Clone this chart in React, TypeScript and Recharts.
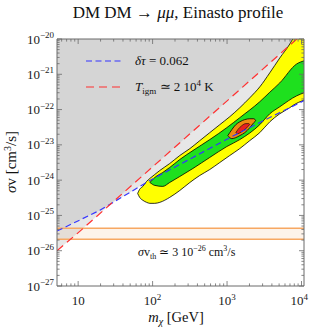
import React from 'react';
import { ComposedChart, Area, Line, XAxis, YAxis, ReferenceLine, ReferenceArea } from 'recharts';

const W = 309;
const H = 332;
const FONT = '"Liberation Serif", "Times New Roman", Times, serif';
const FRAME = '#6a6a6a';

// axis ranges
const massRange = [5.2, 10800];
const svRange = [1e-27, 1e-20];
const massDecades = [1, 10, 100, 1000, 10000];
const svExponents = [-27, -26, -25, -24, -23, -22, -21];

// thermal cross-section band
const svThLow = 2.1e-26;
const svThHigh = 4.3e-26;

// delta tau = 0.062 bound (blue dashed)
const tauCurve = [
  { m: 5.2, sv: 3.6e-26 },
  { m: 19.6, sv: 1.4e-25 },
  { m: 92, sv: 9.8e-25 },
  { m: 348, sv: 4.4e-24 },
  { m: 1090, sv: 1.6e-23 },
  { m: 2750, sv: 4.3e-23 },
  { m: 9470, sv: 1.56e-22 },
  { m: 10800, sv: 1.8e-22 },
];

// T_igm bound (red dashed)
const tigmCurve = [
  { m: 5.2, sv: 1.0e-26 },
  { m: 10.7, sv: 3.65e-26 },
  { m: 107, sv: 2.7e-24 },
  { m: 1070, sv: 2.0e-22 },
  { m: 8640, sv: 1e-20 },
];

// contour slices: [mass, lower sv, upper sv]
const yellowContour = [
  [63, 4.2e-25, 4.2e-25],
  [67, 3.25e-25, 5.5e-25],
  [74, 2.68e-25, 6.65e-25],
  [83, 2.35e-25, 9.2e-25],
  [92, 2.2e-25, 1.12e-24],
  [107, 2.2e-25, 1.45e-24],
  [125, 2.35e-25, 1.88e-24],
  [170, 3.25e-25, 2.96e-24],
  [232, 5.1e-25, 5.0e-24],
  [317, 8.6e-25, 7.85e-24],
  [431, 1.36e-24, 1.32e-23],
  [586, 2.0e-24, 2.22e-23],
  [799, 3.16e-24, 3.74e-23],
  [1089, 5.0e-24, 6.3e-23],
  [1483, 7.85e-24, 1.13e-22],
  [2020, 1.32e-23, 2.16e-22],
  [2752, 2.22e-23, 4.4e-22],
  [3749, 4.5e-23, 1.1e-21],
  [5106, 7.6e-23, 2.9e-21],
  [6955, 1.13e-22, 7.2e-21],
  [7629, 1.3e-22, 1e-20],
  [10800, 1.85e-22, 2.5e-20],
];

const greenContour = [
  [92, 8.6e-25, 8.6e-25],
  [107, 7.1e-25, 1.19e-24],
  [137, 6.65e-25, 1.65e-24],
  [170, 8.6e-25, 2.29e-24],
  [232, 1.27e-24, 3.85e-24],
  [348, 2.14e-24, 6.9e-24],
  [586, 4.4e-24, 1.41e-23],
  [992, 8.95e-24, 3.07e-23],
  [1483, 1.41e-23, 5.9e-23],
  [2752, 3.74e-23, 1.67e-22],
  [3749, 7.6e-23, 3.1e-22],
  [5106, 1.2e-22, 5.7e-22],
  [8635, 2.46e-22, 1.97e-21],
  [10800, 2.99e-22, 2.4e-21],
];

const orangeContour = [
  [1024, 1.83e-23, 1.83e-23],
  [1159, 1.5e-23, 2.7e-23],
  [1311, 1.6e-23, 3.74e-23],
  [1483, 1.83e-23, 4.5e-23],
  [1731, 2.22e-23, 5.2e-23],
  [2020, 3.07e-23, 5.5e-23],
  [2286, 4.26e-23, 5.5e-23],
  [2432, 4.85e-23, 4.85e-23],
];

const redContour = [
  [1311, 2.22e-23, 2.22e-23],
  [1395, 2.08e-23, 2.7e-23],
  [1579, 2.37e-23, 3.5e-23],
  [1785, 2.88e-23, 4.0e-23],
  [1960, 3.5e-23, 4.0e-23],
  [2020, 3.74e-23, 3.74e-23],
];

const toRows = (c: number[][]) => c.map(([m, lo, hi]) => ({ m, lo, hi }));
const tauRegion = tauCurve.map((p) => ({ m: p.m, lo: p.sv, hi: svRange[1] }));
const tigmRegion = tigmCurve.map((p) => ({ m: p.m, lo: p.sv, hi: svRange[1] }));

const xTicks: number[] = [];
massDecades.forEach((d) => {
  for (let k = 1; k <= 9; k++) {
    const v = k * d;
    if (v >= massRange[0] && v <= massRange[1]) xTicks.push(v);
  }
});

const yTicks: number[] = [];
svExponents.forEach((e) => {
  for (let k = 1; k <= 9; k++) yTicks.push(Number(`${k}e${e}`));
});
yTicks.push(1e-20);

const isMajor = (v: number) => {
  const l = Math.log10(v);
  return Math.abs(l - Math.round(l)) < 1e-6;
};

const XTick = (props: any) => {
  const { x, y, payload, side } = props;
  const v = payload.value;
  const major = isMajor(v);
  const len = major ? 5 : 2.6;
  const dir = side === 'bottom' ? -1 : 1;
  const exp = Math.round(Math.log10(v));
  const overflow = x + 9 > W - 1;
  return (
    <g>
      <line x1={x} y1={y} x2={x} y2={y + dir * len} stroke={FRAME} strokeWidth={0.8} />
      {side === 'bottom' && major && (
        <text
          x={overflow ? W - 1 : x}
          y={y + 19}
          textAnchor={overflow ? 'end' : 'middle'}
          fontFamily={FONT}
          fontSize={13}
          fill="#1a1a1a"
        >
          10
          {exp > 1 && (
            <tspan fontSize={9} dy={-5}>
              {exp}
            </tspan>
          )}
        </text>
      )}
    </g>
  );
};

const YTick = (props: any) => {
  const { x, y, payload, side } = props;
  const v = payload.value;
  const major = isMajor(v);
  const len = major ? 5 : 2.6;
  const dir = side === 'left' ? 1 : -1;
  const exp = Math.round(Math.log10(v));
  return (
    <g>
      <line x1={x} y1={y} x2={x + dir * len} y2={y} stroke={FRAME} strokeWidth={0.8} />
      {side === 'left' && major && (
        <text x={x - 3} y={y + 4.5} textAnchor="end" fontFamily={FONT} fontSize={13} fill="#1a1a1a">
          10
          <tspan fontSize={9} dy={-5.5}>
            {'\u2212' + Math.abs(exp)}
          </tspan>
        </text>
      )}
    </g>
  );
};

const rangeKey = (d: any) => [d.lo, d.hi];

export default function App() {
  return (
    <div style={{ position: 'relative', width: W, height: H, fontFamily: FONT, background: '#fff' }}>
      <style>{`body{margin:0;}`}</style>
      <ComposedChart width={W} height={H} margin={{ top: 38, right: 4, bottom: 45, left: 56 }}>
        <XAxis
          type="number"
          dataKey="m"
          scale="log"
          domain={massRange}
          allowDataOverflow
          ticks={xTicks}
          interval={0}
          tickSize={0}
          tickMargin={0}
          height={1}
          axisLine={{ stroke: FRAME, strokeWidth: 1 }}
          tickLine={false}
          tick={(p: any) => <XTick {...p} side="bottom" />}
        />
        <XAxis
          xAxisId="top"
          orientation="top"
          type="number"
          dataKey="m"
          scale="log"
          domain={massRange}
          allowDataOverflow
          ticks={xTicks}
          interval={0}
          tickSize={0}
          tickMargin={0}
          height={1}
          axisLine={{ stroke: FRAME, strokeWidth: 1 }}
          tickLine={false}
          tick={(p: any) => <XTick {...p} side="top" />}
        />
        <YAxis
          type="number"
          scale="log"
          domain={svRange}
          allowDataOverflow
          ticks={yTicks}
          interval={0}
          tickSize={0}
          tickMargin={0}
          width={1}
          axisLine={{ stroke: FRAME, strokeWidth: 1 }}
          tickLine={false}
          tick={(p: any) => <YTick {...p} side="left" />}
        />
        <YAxis
          yAxisId="right"
          orientation="right"
          type="number"
          scale="log"
          domain={svRange}
          allowDataOverflow
          ticks={yTicks}
          interval={0}
          tickSize={0}
          tickMargin={0}
          width={1}
          axisLine={{ stroke: FRAME, strokeWidth: 1 }}
          tickLine={false}
          tick={(p: any) => <YTick {...p} side="right" />}
        />

        <ReferenceArea y1={svThLow} y2={svThHigh} fill="#fdf3ea" fillOpacity={1} stroke="none" />

        <Area data={tauRegion} dataKey={rangeKey} type="linear" fill="#a8a8a8" fillOpacity={0.27} stroke="none" isAnimationActive={false} />
        <Area data={tigmRegion} dataKey={rangeKey} type="linear" fill="#a8a8a8" fillOpacity={0.27} stroke="none" isAnimationActive={false} />

        <Area data={toRows(yellowContour)} dataKey={rangeKey} type="monotone" fill="#ffff00" fillOpacity={1} stroke="#000" strokeWidth={0.8} isAnimationActive={false} />
        <Area data={toRows(greenContour)} dataKey={rangeKey} type="monotone" fill="#1ee01e" fillOpacity={1} stroke="#000" strokeWidth={0.8} isAnimationActive={false} />
        <Area data={toRows(orangeContour)} dataKey={rangeKey} type="monotone" fill="#ee8a10" fillOpacity={1} stroke="#000" strokeWidth={0.8} isAnimationActive={false} />
        <Area data={toRows(redContour)} dataKey={rangeKey} type="monotone" fill="#e82020" fillOpacity={1} stroke="#000" strokeWidth={0.6} isAnimationActive={false} />

        <ReferenceLine y={svThHigh} stroke="#f7a862" strokeWidth={1.5} />
        <ReferenceLine y={svThLow} stroke="#f7a862" strokeWidth={1.5} />

        <Line data={tauCurve} dataKey="sv" type="linear" stroke="#3535ff" strokeWidth={1.2} strokeDasharray="6 3.5" dot={false} isAnimationActive={false} />
        <Line data={tigmCurve} dataKey="sv" type="linear" stroke="#ff3030" strokeWidth={1.2} strokeDasharray="8 5" dot={false} isAnimationActive={false} />
      </ComposedChart>

      <svg width={W} height={H} style={{ position: 'absolute', left: 0, top: 0, pointerEvents: 'none' }} fontFamily={FONT}>
        <text x={178} y={18} textAnchor="middle" fontSize={17} fill="#111">
          DM DM → <tspan fontStyle="italic">μμ</tspan>,  Einasto profile
        </text>

        <line x1={86} y1={61} x2={122} y2={61} stroke="#3535ff" strokeWidth={1.2} strokeDasharray="6 3.5" />
        <text x={135} y={65} fontSize={13} fill="#111">
          <tspan fontStyle="italic">δτ</tspan> = 0.062
        </text>
        <line x1={86} y1={87} x2={122} y2={87} stroke="#ff3030" strokeWidth={1.2} strokeDasharray="8 5" />
        <text x={135} y={91} fontSize={13} fill="#111">
          <tspan fontStyle="italic">T</tspan>
          <tspan fontSize={9} dy={3}>igm</tspan>
          <tspan dy={-3}> ≃ 2 10</tspan>
          <tspan fontSize={9} dy={-5}>4</tspan>
          <tspan dy={5}> K</tspan>
        </text>

        <text x={138} y={256} fontSize={12} fill="#111">
          <tspan fontStyle="italic">σ</tspan>v
          <tspan fontSize={8} dy={3}>th</tspan>
          <tspan dy={-3}> ≃ 3 10</tspan>
          <tspan fontSize={8} dy={-5}>−26</tspan>
          <tspan dy={5}> cm</tspan>
          <tspan fontSize={8} dy={-5}>3</tspan>
          <tspan dy={5}>/s</tspan>
        </text>

        <g transform="translate(16,162) rotate(-90)">
          <text x={0} y={0} textAnchor="middle" fontSize={15} fill="#111">
            <tspan fontStyle="italic">σ</tspan>v  [cm
            <tspan fontSize={10} dy={-5}>3</tspan>
            <tspan dy={5}>/s]</tspan>
          </text>
        </g>

        <text x={176} y={322} textAnchor="middle" fontSize={14.5} fill="#111">
          <tspan fontStyle="italic">m</tspan>
          <tspan fontStyle="italic" fontSize={10} dy={3}>χ</tspan>
          <tspan dy={-3}>  [GeV]</tspan>
        </text>
      </svg>
    </div>
  );
}
